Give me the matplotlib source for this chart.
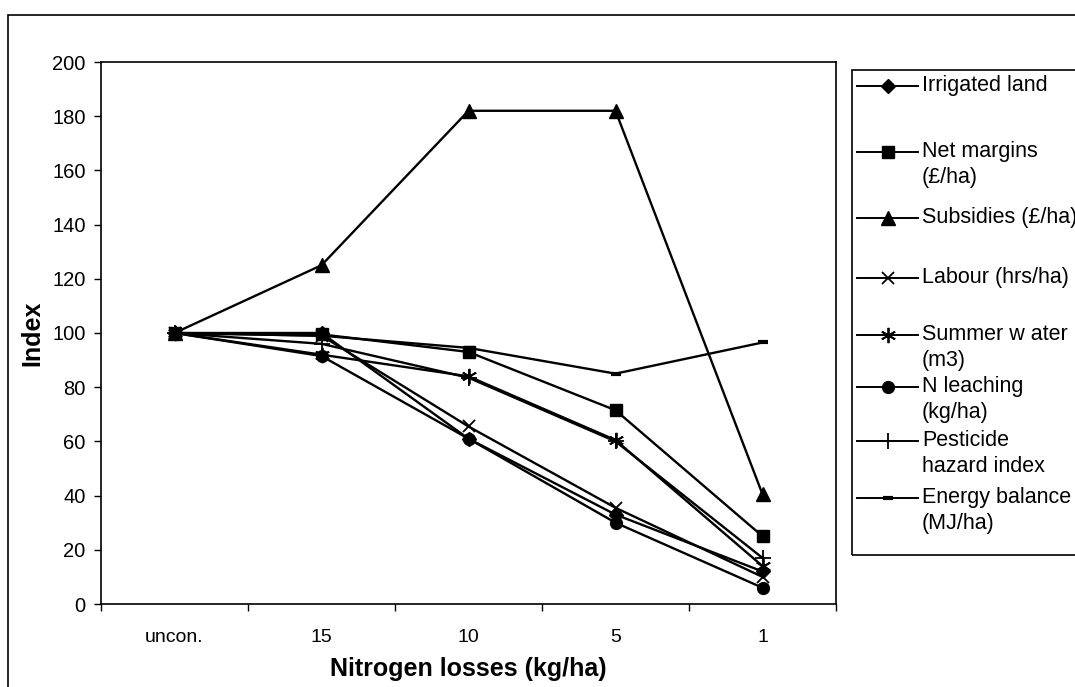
import matplotlib
matplotlib.use("Agg")
import matplotlib.pyplot as plt
from matplotlib.lines import Line2D
from matplotlib.patches import Rectangle

plt.rcParams['font.family'] = ['Liberation Sans', 'DejaVu Sans']

categories = ["uncon.", "15", "10", "5", "1"]
irrigated_land = [100, 100, 61, 33, 12]
net_margins = [100, 99.5, 93, 71.5, 25]
subsidies = [100, 125, 182, 182, 40.5]
labour = [100, 99, 65.5, 35.5, 10]
summer_water = [100, 92, 84, 60.5, 14]
n_leaching = [100, 91.5, 61, 30, 6]
pesticide = [100, 96, 83.5, 60, 17]
energy_balance = [100, 99, 94.5, 85, 96.5]
yticks = [0, 20, 40, 60, 80, 100, 120, 140, 160, 180, 200]

series = [
    (irrigated_land, "Irrigated land", dict(marker='D', ms=7, mew=1)),
    (net_margins, "Net margins\n(£/ha)", dict(marker='s', ms=8, mew=1)),
    (subsidies, "Subsidies (£/ha)", dict(marker='^', ms=9.5, mew=1)),
    (labour, "Labour (hrs/ha)", dict(marker='x', ms=8.5, mew=1.3, mfc='none')),
    (summer_water, "Summer w ater\n(m3)", dict(marker=(6, 2, 0), ms=11, mew=1.3)),
    (n_leaching, "N leaching\n(kg/ha)", dict(marker='o', ms=8.5, mew=1)),
    (pesticide, "Pesticide\nhazard index", dict(marker='+', ms=12, mew=1.3)),
    (energy_balance, "Energy balance\n(MJ/ha)", dict(marker='_', ms=7, mew=3)),
]

W, H = 1075, 687
fig = plt.figure(figsize=(W / 100, H / 100), dpi=100)
ax = fig.add_axes([101 / W, 1 - 604 / H, (836 - 101) / W, (604 - 62) / H])

x = list(range(len(categories)))
for vals, lab, kw in series:
    kw = dict(kw)
    ax.plot(x, vals, color='black', lw=1.7, mfc=kw.pop('mfc', 'black'), mec='black', **kw)

ax.set_xlim(-0.5, len(categories) - 0.5)
ax.set_ylim(0, 200)
ax.set_yticks(yticks)
ax.tick_params(axis='y', direction='out', length=5, width=1, labelsize=14.5, pad=6)
ax.set_xticks([i - 0.5 for i in range(len(categories) + 1)])
ax.set_xticklabels([])
ax.tick_params(axis='x', which='major', direction='out', length=5, width=1)
ax.set_xticks(x, minor=True)
ax.set_xticklabels(categories, minor=True)
ax.tick_params(axis='x', which='minor', length=0, labelsize=14, pad=18)
for s in ax.spines.values():
    s.set_linewidth(1.2)
ax.set_ylabel("Index", fontsize=18, fontweight='bold', labelpad=6)
ax.set_xlabel("Nitrogen losses (kg/ha)", fontsize=18, fontweight='bold', labelpad=8)

# outer chart border
fig.patches.append(Rectangle((8 / W, -0.05), 1.1, 1 - 15 / H + 0.05, transform=fig.transFigure,
                             fill=False, ec='black', lw=1.2))

# legend box
lx0, ly0, ly1 = 852, 70, 555
fig.patches.append(Rectangle((lx0 / W, 1 - ly1 / H), 1.1, (ly1 - ly0) / H, transform=fig.transFigure,
                             fill=False, ec='black', lw=1.2))
entry_y = [86, 152, 218, 278, 335, 387, 441, 498]
for (vals, lab, kw), yy in zip(series, entry_y):
    yf = 1 - yy / H
    fig.lines.append(Line2D([857 / W, 918 / W], [yf, yf], transform=fig.transFigure,
                            color='black', lw=1.4))
    kw2 = dict(kw)
    mfc = kw2.pop('mfc', 'black')
    fig.lines.append(Line2D([888 / W], [yf], transform=fig.transFigure, color='black',
                            mfc=mfc, mec='black', **kw2))
    fig.text(922 / W, yf + 11 / H, lab, fontsize=15.5, va='top', ha='left',
             transform=fig.transFigure, linespacing=1.3)

fig.savefig("out.png", dpi=100)
